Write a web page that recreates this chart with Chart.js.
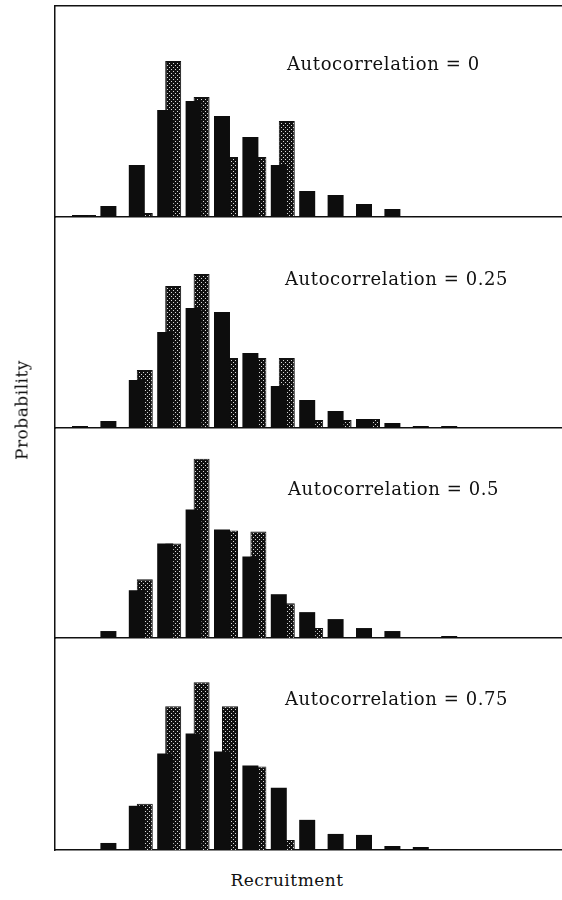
<!DOCTYPE html>
<html><head><meta charset="utf-8">
<script src="https://cdn.jsdelivr.net/npm/chart.js@4/dist/chart.umd.min.js"></script>
<style>
html,body{margin:0;padding:0;background:#fff;}
#wrap{position:relative;width:562px;height:900px;overflow:hidden;font-family:"DejaVu Serif",serif;color:#111;background:#fff;}
canvas{position:absolute;left:0;}
.lbl{position:absolute;font-size:17px;line-height:17px;white-space:nowrap;}
.pl{font-size:18px;line-height:18px;letter-spacing:0.6px;}
.al{letter-spacing:0.5px;}
</style></head><body>
<div id="wrap">
  <canvas id="c0"></canvas>
  <canvas id="c1"></canvas>
  <canvas id="c2"></canvas>
  <canvas id="c3"></canvas>
  <div class="lbl pl" id="t0" style="left:287px;top:55px;"></div>
  <div class="lbl pl" id="t1" style="left:285px;top:270px;"></div>
  <div class="lbl pl" id="t2" style="left:288px;top:480px;"></div>
  <div class="lbl pl" id="t3" style="left:285px;top:690px;"></div>
  <div class="lbl al" id="ylab" style="left:22px;top:410px;transform:translate(-50%,-50%) rotate(-90deg);">Probability</div>
  <div class="lbl al" id="xlab" style="left:287px;top:872px;transform:translateX(-50%);">Recruitment</div>
</div>
<script>
// Recruitment bins (class index)
const bins = [0,1,2,3,4,5,6,7,8,9,10,11,12,13];
const panelLabels = ["Autocorrelation = 0","Autocorrelation = 0.25","Autocorrelation = 0.5","Autocorrelation = 0.75"];

// Autocorrelation = 0
const black0 = [0.002,0.011,0.052,0.107,0.116,0.101,0.080,0.052,0.026,0.022,0.013,0.008,0.001,0];
const gray0  = [0.002,0,0.004,0.156,0.120,0.060,0.060,0.096,0.001,0.001,0.001,0,0,0];
// Autocorrelation = 0.25
const black1 = [0.002,0.007,0.048,0.096,0.120,0.116,0.075,0.042,0.028,0.017,0.009,0.005,0.002,0.002];
const gray1  = [0.001,0,0.058,0.142,0.154,0.070,0.070,0.070,0.008,0.008,0.009,0,0,0];
// Autocorrelation = 0.5
const black2 = [0,0.007,0.048,0.095,0.129,0.109,0.082,0.044,0.026,0.019,0.010,0.007,0,0.002];
const gray2  = [0,0,0.059,0.095,0.180,0.108,0.107,0.035,0.010,0,0,0,0,0];
// Autocorrelation = 0.75
const black3 = [0,0.007,0.044,0.096,0.116,0.098,0.084,0.062,0.030,0.016,0.015,0.004,0.003,0.001];
const gray3  = [0,0,0.046,0.143,0.167,0.143,0.083,0.010,0,0,0,0,0,0];

const blackSeries = [black0,black1,black2,black3];
const graySeries = [gray0,gray1,gray2,gray3];

// layout
const panelTops = [6,217,428,638];
const panelBottoms = [217,428,638,850];
const PAD = 3;
const X_MIN = -1.021, X_MAX = 16.831;
const Y_MAX = 0.211;

// stipple pattern for the grey bars
function makePattern(){
  const p = document.createElement('canvas');
  p.width = 4; p.height = 4;
  const g = p.getContext('2d');
  g.fillStyle = '#111'; g.fillRect(0,0,4,4);
  g.fillStyle = '#d8d8d8';
  g.fillRect(1,0,1,1); g.fillRect(3,2,1,1);
  return g.createPattern(p,'repeat');
}

panelLabels.forEach((t,i)=>{ document.getElementById('t'+i).textContent = t; });

for (let i=0;i<4;i++){
  const cv = document.getElementById('c'+i);
  const h = panelBottoms[i]-panelTops[i] + 2*PAD;
  cv.width = 562; cv.height = h;
  cv.style.top = (panelTops[i]-PAD)+'px';
  cv.style.width = '562px'; cv.style.height = h+'px';
  const ctx = cv.getContext('2d');
  const pattern = makePattern();
  const scales = {
    x: {type:'linear', min:X_MIN, max:X_MAX, offset:false, bounds:'data', display:true,
        ticks:{display:false}, grid:{display:false, drawTicks:false, offset:false},
        border:{display:true, color:'#111', width:1.5}},
    y: {min:0, max:Y_MAX, display:true,
        ticks:{display:false}, grid:{display:false, drawTicks:false},
        border:{display:true, color:'#111', width:1.5}}
  };
  if (i===0){
    scales.xTop = {type:'linear', position:'top', min:X_MIN, max:X_MAX, offset:false, display:true,
        ticks:{display:false}, grid:{display:false, drawTicks:false},
        border:{display:true, color:'#111', width:1.5}};
  }
  new Chart(ctx, {
    type:'bar',
    data:{
      datasets:[
        {label:'black', data: bins.map((b,j)=>({x:b, y:blackSeries[i][j]})),
         backgroundColor:'#0d0d0d', borderWidth:0,
         categoryPercentage:0.563, barPercentage:2.0},
        {label:'stippled', data: bins.map((b,j)=>({x:b, y:graySeries[i][j]})),
         backgroundColor:pattern, borderColor:'#111', borderWidth:1,
         categoryPercentage:0.563, barPercentage:2.0}
      ]
    },
    options:{
      responsive:false, animation:false, devicePixelRatio:1,
      layout:{padding:{left:55,right:0,top:PAD,bottom:PAD}},
      plugins:{legend:{display:false}, tooltip:{enabled:false}, title:{display:false}},
      scales: scales
    }
  });
}
</script>
</body></html>
